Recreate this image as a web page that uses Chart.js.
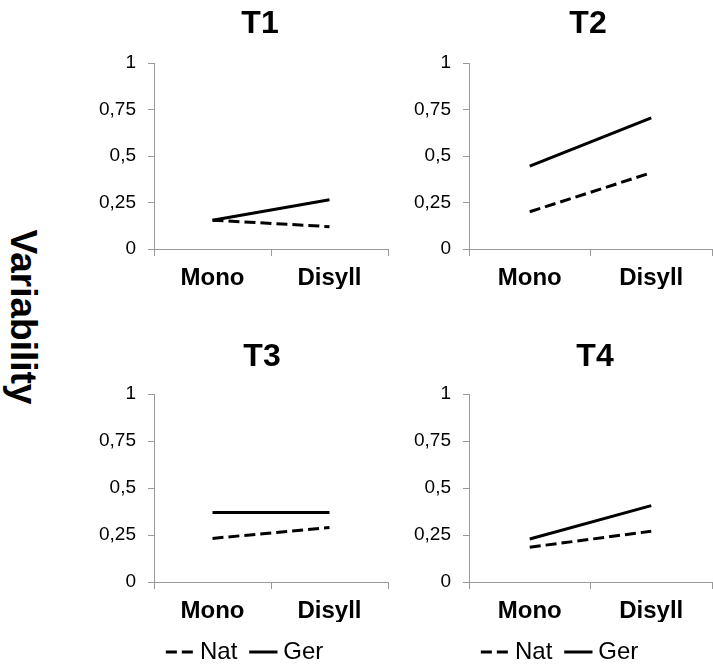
<!DOCTYPE html>
<html>
<head>
<meta charset="utf-8">
<script src="https://cdn.jsdelivr.net/npm/chart.js@4.4.1/dist/chart.umd.min.js"></script>
<style>
  html, body { margin: 0; padding: 0; background: #fff; overflow: hidden; }
  #page { position: relative; width: 713px; height: 664px; overflow: hidden; }
  canvas { position: absolute; }
  #ylabel {
    position: absolute; left: -127px; top: 296px; width: 300px; line-height: 44px;
    text-align: center; font: bold 37px Arial, "Liberation Sans", sans-serif;
    transform: rotate(90deg);
  }
</style>
</head>
<body>
<div id="page">
  <div id="ylabel">Variability</div>
  <canvas id="c1"></canvas>
  <canvas id="c2"></canvas>
  <canvas id="c3"></canvas>
  <canvas id="c4"></canvas>
</div>
<script>
// data
const categories = ["Mono", "Disyll"];
const panelTitles = ["T1", "T2", "T3", "T4"];
const seriesNames = ["Nat", "Ger"];
const yTickLabels = ["0", "0,25", "0,5", "0,75", "1"];

const t1Nat = [0.155, 0.12];
const t1Ger = [0.155, 0.265];
const t2Nat = [0.20, 0.41];
const t2Ger = [0.445, 0.705];
const t3Nat = [0.232, 0.29];
const t3Ger = [0.37, 0.37];
const t4Nat = [0.185, 0.27];
const t4Ger = [0.229, 0.406];

const FONT = 'Arial, "Liberation Sans", sans-serif';
const AXIS = "#999";
Chart.defaults.color = "#000";
Chart.defaults.font.family = FONT;

// panel heading, placed a bit left of the plot centre like the original
const panelTitle = {
    id: "panelTitle",
    afterDraw(chart, args, opts) {
        const ctx = chart.ctx;
        ctx.save();
        ctx.font = "bold 32px " + FONT;
        ctx.fillStyle = "#000";
        ctx.textAlign = "center";
        ctx.textBaseline = "middle";
        ctx.fillText(opts.text, opts.x, opts.y);
        ctx.restore();
    }
};

function legendLabels(chart) {
    const items = Chart.defaults.plugins.legend.labels.generateLabels(chart);
    items.forEach(it => {
        const ds = chart.data.datasets[it.datasetIndex];
        it.lineDash = ds.borderDash || [];
        it.lineWidth = 3;
        it.strokeStyle = "#000";
        it.fillStyle = "#000";
    });
    return items;
}

function makePanel(id, title, nat, ger, box) {
    const canvas = document.getElementById(id);
    canvas.width = box.width;
    canvas.height = box.height;
    canvas.style.left = box.left + "px";
    canvas.style.top = box.top + "px";

    const yWidth = 60;
    const xHeight = 40;
    const legendH = box.legend ? 52 : 0;
    const padLeft = box.area.l - box.left - yWidth;
    const padRight = box.left + box.width - box.area.r;
    const padTop = box.area.t - box.top;
    const padBottom = box.height - (box.area.b - box.top) - xHeight - legendH;

    new Chart(canvas, {
        type: "line",
        data: {
            labels: categories,
            datasets: [
                { label: seriesNames[0], data: nat, borderColor: "#000", backgroundColor: "#000",
                  borderWidth: 3, borderDash: [11, 5], pointRadius: 0 },
                { label: seriesNames[1], data: ger, borderColor: "#000", backgroundColor: "#000",
                  borderWidth: 3, pointRadius: 0 }
            ]
        },
        plugins: [panelTitle],
        options: {
            responsive: false,
            animation: false,
            layout: { padding: { left: padLeft, right: padRight, top: padTop, bottom: padBottom } },
            plugins: {
                panelTitle: { text: title, x: box.titleX - box.left, y: box.titleY - box.top },
                title: { display: false },
                legend: {
                    display: box.legend,
                    position: "bottom",
                    align: "start",
                    fullSize: false,
                    labels: {
                        usePointStyle: true, pointStyle: "line",
                        boxWidth: 16, boxHeight: 20, padding: 18,
                        font: { size: 24 },
                        generateLabels: legendLabels
                    }
                },
                tooltip: { enabled: false }
            },
            scales: {
                x: {
                    offset: true,
                    grid: { offset: true, drawOnChartArea: false, tickLength: 7, color: AXIS },
                    border: { color: AXIS },
                    ticks: { font: { size: 24, weight: "bold" }, padding: 8, maxRotation: 0 },
                    afterFit: s => { s.height = xHeight; }
                },
                y: {
                    min: 0, max: 1,
                    grid: { drawOnChartArea: false, tickLength: 6, color: AXIS },
                    border: { color: AXIS },
                    ticks: {
                        stepSize: 0.25, padding: 12, font: { size: 19 },
                        callback: (v, i) => yTickLabels[i]
                    },
                    afterFit: s => { s.width = yWidth; }
                }
            }
        }
    });
}

makePanel("c1", panelTitles[0], t1Nat, t1Ger,
    { left: 60, top: 0, width: 330, height: 300, titleX: 260, titleY: 24,
      area: { l: 154, t: 63, r: 388, b: 249 }, legend: false });
makePanel("c2", panelTitles[1], t2Nat, t2Ger,
    { left: 380, top: 0, width: 333, height: 300, titleX: 588, titleY: 24,
      area: { l: 469, t: 63, r: 712, b: 249 }, legend: false });
makePanel("c3", panelTitles[2], t3Nat, t3Ger,
    { left: 60, top: 330, width: 330, height: 344, titleX: 262, titleY: 357,
      area: { l: 154, t: 394, r: 388, b: 582 }, legend: true });
makePanel("c4", panelTitles[3], t4Nat, t4Ger,
    { left: 380, top: 330, width: 333, height: 344, titleX: 595, titleY: 357,
      area: { l: 469, t: 394, r: 712, b: 582 }, legend: true });
</script>
</body>
</html>
